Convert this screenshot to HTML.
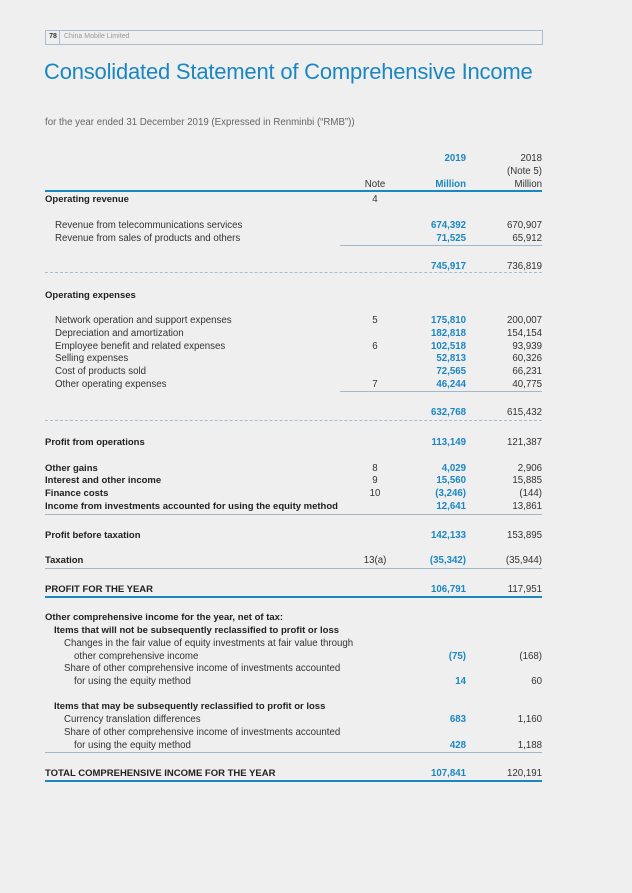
<!DOCTYPE html>
<html><head><meta charset="utf-8"><style>
body{margin:0;background:#efeff0;}
#pg{position:relative;width:632px;height:893px;background:#efeff0;font-family:"Liberation Sans",sans-serif;color:#333;font-size:9.7px;overflow:hidden}
.r{position:absolute;height:14px;line-height:14px;white-space:nowrap}
.b{font-weight:bold;color:#222;font-size:9.5px}
.bl{color:#1b87c2;font-weight:bold}
.n{text-align:right}
.h{position:absolute;left:45px;width:497px;height:0}
</style></head><body>
<div id="pg">
<div style="position:absolute;left:45px;top:30px;width:496px;height:13px;border:1px solid #a9bdd0"></div>
<div class="r" style="left:47px;top:30px;width:12px;font-size:7px;font-weight:bold;border-right:1px solid #a9bdd0;text-align:center">78</div>
<div class="r" style="left:64px;top:30px;font-size:7px;color:#999">China Mobile Limited</div>
<div class="r" style="left:44px;top:57px;height:30px;line-height:30px;font-size:22px;color:#1b87c2;letter-spacing:-0.2px">Consolidated Statement of Comprehensive Income</div>
<div class="r" style="left:45px;top:116px;color:#666;font-size:9.7px">for the year ended 31 December 2019 (Expressed in Renminbi (“RMB”))</div>
<div id="rows"></div>
</div>
<script>
const rows=[
[158,"","",0,"","2019","2018"],
[171,"","",0,"","","(Note 5)"],
[184,"","",0,"Note","Million","Million"],
[199,"Operating revenue","b",0,"4","",""],
[225,"Revenue from telecommunications services","",10,"","674,392","670,907"],
[238,"Revenue from sales of products and others","",10,"","71,525","65,912"],
[266,"","",0,"","745,917","736,819"],
[295,"Operating expenses","b",0,"","",""],
[320,"Network operation and support expenses","",10,"5","175,810","200,007"],
[333,"Depreciation and amortization","",10,"","182,818","154,154"],
[346,"Employee benefit and related expenses","",10,"6","102,518","93,939"],
[358,"Selling expenses","",10,"","52,813","60,326"],
[371,"Cost of products sold","",10,"","72,565","66,231"],
[384,"Other operating expenses","",10,"7","46,244","40,775"],
[412,"","",0,"","632,768","615,432"],
[442,"Profit from operations","b",0,"","113,149","121,387"],
[468,"Other gains","b",0,"8","4,029","2,906"],
[480,"Interest and other income","b",0,"9","15,560","15,885"],
[493,"Finance costs","b",0,"10","(3,246)","(144)"],
[506,"Income from investments accounted for using the equity method","b",0,"","12,641","13,861"],
[535,"Profit before taxation","b",0,"","142,133","153,895"],
[560,"Taxation","b",0,"13(a)","(35,342)","(35,944)"],
[589,"PROFIT FOR THE YEAR","b",0,"","106,791","117,951"],
[617,"Other comprehensive income for the year, net of tax:","b",0,"","",""],
[630,"Items that will not be subsequently reclassified to profit or loss","b",9,"","",""],
[643,"Changes in the fair value of equity investments at fair value through","",19,"","",""],
[656,"other comprehensive income","",29,"","(75)","(168)"],
[668,"Share of other comprehensive income of investments accounted","",19,"","",""],
[681,"for using the equity method","",29,"","14","60"],
[706,"Items that may be subsequently reclassified to profit or loss","b",9,"","",""],
[719,"Currency translation differences","",19,"","683","1,160"],
[732,"Share of other comprehensive income of investments accounted","",19,"","",""],
[745,"for using the equity method","",29,"","428","1,188"],
[773,"TOTAL COMPREHENSIVE INCOME FOR THE YEAR","b",0,"","107,841","120,191"]
];
const lines=[
[190,45,497,"2px solid #1b87c2"],
[245,340,202,"1px solid #9fb8cc"],
[272,45,497,"1px dashed #a9bdd0"],
[391,340,202,"1px solid #9fb8cc"],
[420,45,497,"1px dashed #a9bdd0"],
[514,45,497,"1px solid #9fb8cc"],
[568,45,497,"1px solid #9fb8cc"],
[596,45,497,"2px solid #1b87c2"],
[752,45,497,"1px solid #9fb8cc"],
[780,45,497,"2px solid #1b87c2"]
];
const host=document.getElementById('rows');
function mk(html,css,cls){const d=document.createElement('div');d.className='r '+(cls||'');d.style.cssText=css;d.textContent=html;host.appendChild(d);return d;}
rows.forEach(r=>{
 const t=r[0]-6;
 if(r[1]){const d=mk(r[1],`left:${45+r[3]}px;top:${t}px`,r[2]);
 
 }
 if(r[4]){const d=mk(r[4],`left:345px;width:60px;top:${t}px;text-align:center`);
 
 }
 if(r[5]){const d=mk(r[5],`left:386px;width:80px;top:${t}px`,'n bl');
 
 }
 if(r[6]){const d=mk(r[6],`left:462px;width:80px;top:${t}px`,'n');
 
 }
});
lines.forEach(l=>{const d=document.createElement('div');d.className='h';
 d.style.cssText=`top:${l[0]}px;left:${l[1]}px;width:${l[2]}px;border-top:${l[3]}`;
 
 
 host.appendChild(d);});
</script>
</body></html>
